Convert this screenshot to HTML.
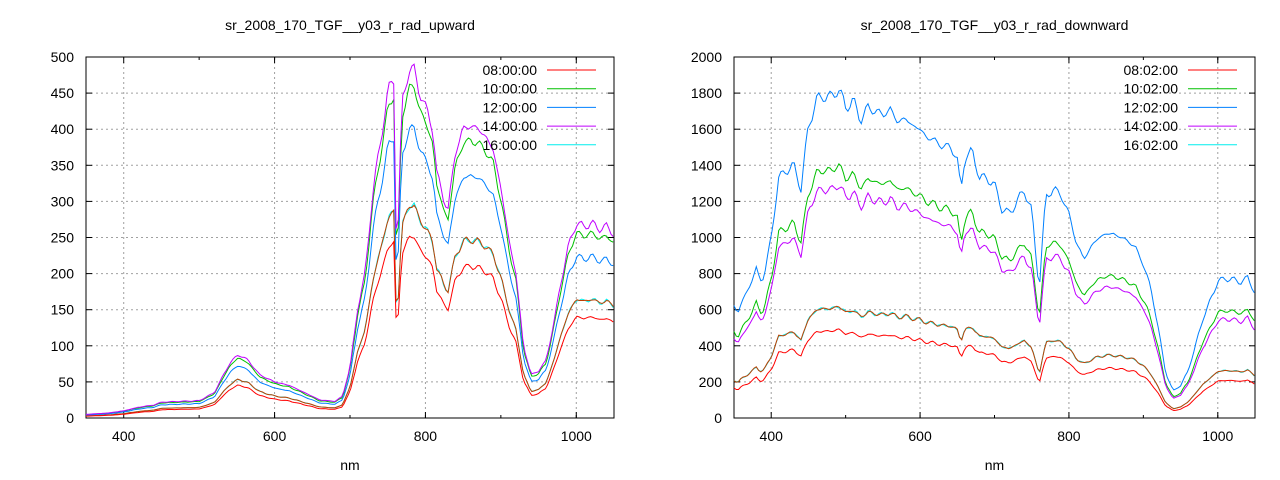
<!DOCTYPE html>
<html><head><meta charset="utf-8"><style>
html,body{margin:0;padding:0;background:#fff;width:1280px;height:480px;overflow:hidden}
text{font-family:"Liberation Sans",sans-serif;font-size:14px;fill:#000}
</style></head><body>
<svg id="s" width="1280" height="480" xmlns="http://www.w3.org/2000/svg"></svg>
<script>
var S=document.getElementById('s'),out='';
function L(x1,y1,x2,y2,c,w,d){out+='<line x1="'+x1+'" y1="'+y1+'" x2="'+x2+'" y2="'+y2+'" stroke="'+c+'" stroke-width="'+(w||1)+'"'+(d?' stroke-dasharray="'+d+'"':'')+'/>';}
function T(x,y,s,a){out+='<text x="'+x+'" y="'+y+'" text-anchor="'+(a||'middle')+'">'+s+'</text>';}
var up=[[350,5],[380,7],[400,10],[420,15],[440,18],[450,22],[500,24],[520,35],[540,75],[552,88],[565,80],[580,60],[600,50],[620,45],[640,35],[660,25],[680,23],[690,30],[700,70],[710,150],[720,200],[730,310],[740,380],[750,450],[758,470],[762,200],[766,350],[770,440],[778,485],[785,480],[790,460],[800,430],[810,400],[815,340],[825,300],[830,290],[840,370],[850,400],[860,405],[870,400],[880,390],[890,370],[900,320],[910,250],[920,200],[930,100],[940,60],[950,65],[960,80],[970,130],[980,190],[990,240],[1000,270],[1010,265],[1020,270],[1030,262],[1040,265],[1050,255]];
var dn=[[350,620],[355,580],[360,640],[370,720],[380,830],[385,760],[390,780],[400,1000],[410,1330],[420,1370],[430,1400],[440,1270],[450,1620],[460,1750],[470,1790],[480,1770],[490,1830],[500,1720],[510,1760],[520,1650],[530,1720],[540,1700],[550,1680],[560,1710],[570,1640],[580,1660],[590,1620],[600,1600],[610,1550],[620,1540],[630,1500],[640,1510],[650,1430],[655,1260],[660,1440],[670,1480],[680,1330],[690,1330],[700,1290],[710,1160],[720,1130],[730,1200],[740,1260],[750,1150],[758,800],[762,750],[765,1050],[770,1230],[780,1270],[790,1230],[800,1130],[810,970],[820,880],[830,950],[840,1000],[850,1020],[860,1020],[870,1000],[880,980],[890,940],[900,850],[910,720],[920,500],[930,250],[940,150],[950,180],[960,260],[970,400],[980,550],[990,650],[1000,760],[1010,770],[1020,770],[1030,750],[1040,780],[1050,690]];
function interp(d,x){for(var i=1;i<d.length;i++){if(x<=d[i][0]){var a=d[i-1],b=d[i];return a[1]+(b[1]-a[1])*(x-a[0])/(b[0]-a[0]);}}return d[d.length-1][1];}
function chart(ox,x0,x1,ymax,ystep,title,data,ser,names){
 var y0=57,y1=418,sx=function(v){return x0+(v-350)/700*(x1-x0)},sy=function(v){return y1-v/ymax*(y1-y0)};
 for(var v=0;v<=ymax;v+=ystep){var y=sy(v);if(v>0&&v<ymax)L(x0,y,x1,y,'#a0a0a0',1,'2,3');L(x0,y,x0+6,y,'#000');L(x1-6,y,x1,y,'#000');T(x0-12,y+5,v,'end');}
 for(var n=400;n<=1000;n+=200){var x=sx(n);L(x,y0,x,y1,'#a0a0a0',1,'2,3');L(x,y1,x,y1-6,'#000');L(x,y0,x,y0+6,'#000');T(x,y1+23,n);}
 for(var n=500;n<=1000;n+=100){var x=sx(n);L(x,y1,x,y1-3,'#000');L(x,y0,x,y0+3,'#000');}
 out+='<rect x="'+x0+'" y="'+y0+'" width="'+(x1-x0)+'" height="'+(y1-y0)+'" fill="none" stroke="#000"/>';
 T((x0+x1)/2,30,title);T((x0+x1)/2,470,'nm');
 ser.forEach(function(s,k){var p=[];for(var n=350;n<=1050;n+=3){var j=Math.sin(n*1.7+k)*0.012+Math.sin(n*0.37)*0.01;var v=interp(data,n)*s[1]*(1+j);p.push(sx(n).toFixed(1)+','+sy(v).toFixed(1));}
  out+='<polyline fill="none" stroke="'+s[0]+'" stroke-width="1" points="'+p.join(' ')+'"/>';});
 names.forEach(function(nm,k){var y=70+k*18.7;T(x1-77,y+5,nm[0],'end');L(x1-67,y,x1-18,y,nm[1]);});
}
chart(0,86,614,500,50,'sr_2008_170_TGF__y03_r_rad_upward',up,
 [['#00eeee',0.61],['#c04000',0.61],['#ff0000',0.52],['#00c000',0.95],['#0080ff',0.83],['#c000ff',1]],
 [['08:00:00','#ff0000'],['10:00:00','#00c000'],['12:00:00','#0080ff'],['14:00:00','#c000ff'],['16:00:00','#00eeee']]);
chart(0,734,1255,2000,200,'sr_2008_170_TGF__y03_r_rad_downward',dn,
 [['#00eeee',0.34],['#c04000',0.34],['#ff0000',0.27],['#00c000',0.77],['#0080ff',1],['#c000ff',0.71]],
 [['08:02:00','#ff0000'],['10:02:00','#00c000'],['12:02:00','#0080ff'],['14:02:00','#c000ff'],['16:02:00','#00eeee']]);
S.innerHTML=out;
</script>
</body></html>
